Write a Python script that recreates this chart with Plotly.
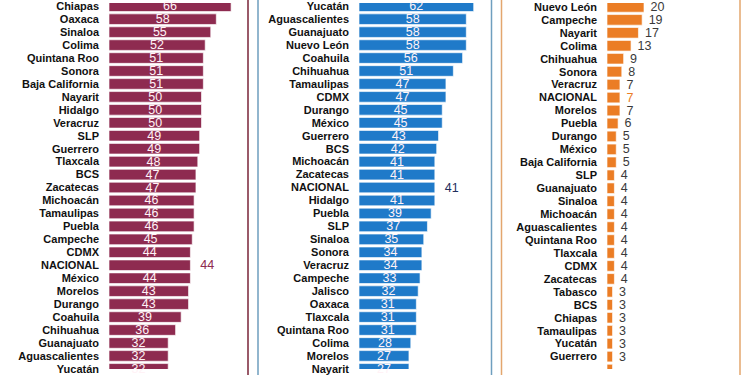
import plotly.graph_objects as go

W, H = 750, 375

left_states = ["Chiapas", "Oaxaca", "Sinaloa", "Colima", "Quintana Roo", "Sonora",
               "Baja California", "Nayarit", "Hidalgo", "Veracruz", "SLP", "Guerrero",
               "Tlaxcala", "BCS", "Zacatecas", "Michoacán", "Tamaulipas", "Puebla",
               "Campeche", "CDMX", "NACIONAL", "México", "Morelos", "Durango",
               "Coahuila", "Chihuahua", "Guanajuato", "Aguascalientes", "Yucatán"]
left_values = [66, 58, 55, 52, 51, 51, 51, 50, 50, 50, 49, 49, 48, 47, 47, 46, 46, 46,
               45, 44, 44, 44, 43, 43, 39, 36, 32, 32, 32]

mid_states = ["Yucatán", "Aguascalientes", "Guanajuato", "Nuevo León", "Coahuila",
              "Chihuahua", "Tamaulipas", "CDMX", "Durango", "México", "Guerrero", "BCS",
              "Michoacán", "Zacatecas", "NACIONAL", "Hidalgo", "Puebla", "SLP",
              "Sinaloa", "Sonora", "Veracruz", "Campeche", "Jalisco", "Oaxaca",
              "Tlaxcala", "Quintana Roo", "Colima", "Morelos", "Nayarit"]
mid_values = [62, 58, 58, 58, 56, 51, 47, 47, 45, 45, 43, 42, 41, 41, 41, 41, 39, 37,
              35, 34, 34, 33, 32, 31, 31, 31, 28, 27, 27]

right_states = ["Nuevo León", "Campeche", "Nayarit", "Colima", "Chihuahua", "Sonora",
                "Veracruz", "NACIONAL", "Morelos", "Puebla", "Durango", "México",
                "Baja California", "SLP", "Guanajuato", "Sinaloa", "Michoacán",
                "Aguascalientes", "Quintana Roo", "Tlaxcala", "CDMX", "Zacatecas",
                "Tabasco", "BCS", "Chiapas", "Tamaulipas", "Yucatán", "Guerrero", "Oaxaca"]
right_values = [20, 19, 17, 13, 9, 8, 7, 7, 7, 6, 5, 5, 5, 4, 4, 4, 4, 4, 4, 4, 4, 4,
                3, 3, 3, 3, 3, 3, 3]

MAROON = "#8E2B50"
BLUE = "#1F7AC9"
ORANGE = "#EB7D25"
NAVY = "#1F2F5C"
GRAY = "#3A3A3A"
NB = "\u00a0"

SCALE = 1.85  # px per unit
PITCH = 13.27

fig = go.Figure()

panels = [
    # states, values, color, bar start px, domain end px, inside?, nacional color, first row px
    (left_states, left_values, MAROON, 109, 246, True, MAROON, 3.3),
    (mid_states, mid_values, BLUE, 359, 489, True, NAVY, 3.3),
    (right_states, right_values, ORANGE, 607, 738, False, ORANGE, 4.0),
]

for k, (states, vals, col, x0, x1, inside, natcol, first) in enumerate(panels):
    sfx = "" if k == 0 else str(k + 1)
    pos, tcol, txt = [], [], []
    for s, v in zip(states, vals):
        if s == "NACIONAL" or not inside:
            pos.append("outside")
            tcol.append(natcol if s == "NACIONAL" else GRAY)
            txt.append((NB * 2 if inside else NB) + str(v))
        else:
            pos.append("inside")
            tcol.append("#FFF2F6")
            txt.append(str(v))
    fig.add_trace(go.Bar(
        x=vals, y=states, orientation="h",
        marker=dict(color=col, line=dict(color="rgba(255,255,255,0.8)", width=0.8)),
        text=txt, textposition=pos, textangle=0,
        insidetextanchor="middle",
        textfont=dict(color=tcol, size=12.5, family="Arial"),
        cliponaxis=False,
        xaxis="x" + sfx, yaxis="y" + sfx, showlegend=False,
    ))
    rng_max = (x1 - x0) / SCALE
    top = -first / PITCH
    bot = (H - first) / PITCH
    fig.layout["xaxis" + sfx] = dict(domain=[x0 / W, x1 / W], range=[0, rng_max],
                                     visible=False, fixedrange=True)
    fig.layout["yaxis" + sfx] = dict(
        domain=[0, 1], type="category", range=[bot, top],
        anchor="x" + sfx, showgrid=False, zeroline=False, showline=False,
        ticks="", ticklabelstandoff=9,
        tickmode="array", tickvals=states, ticktext=states,
        tickfont=dict(family="Arial", size=11, color="#111111", weight="bold"),
        categoryorder="array", categoryarray=states, fixedrange=True,
    )

# panel frames
frames = [(-20, 248, "#7A2438"), (258, 491.5, "#6F9FBF"), (501.5, 740, "#E3A66E")]
for a, b, c in frames:
    fig.add_shape(type="rect", xref="paper", yref="paper",
                  x0=a / W, x1=b / W, y0=-0.2, y1=1.2,
                  line=dict(color=c, width=1.5), fillcolor="rgba(0,0,0,0)")

fig.update_layout(
    width=W, height=H, margin=dict(l=0, r=0, t=0, b=0),
    paper_bgcolor="white", plot_bgcolor="white",
    bargap=0.18,
    uniformtext=dict(minsize=11, mode="show"),
)

fig.write_html("out.html", config={"displayModeBar": False},
               post_script="document.body.style.margin='0';")
